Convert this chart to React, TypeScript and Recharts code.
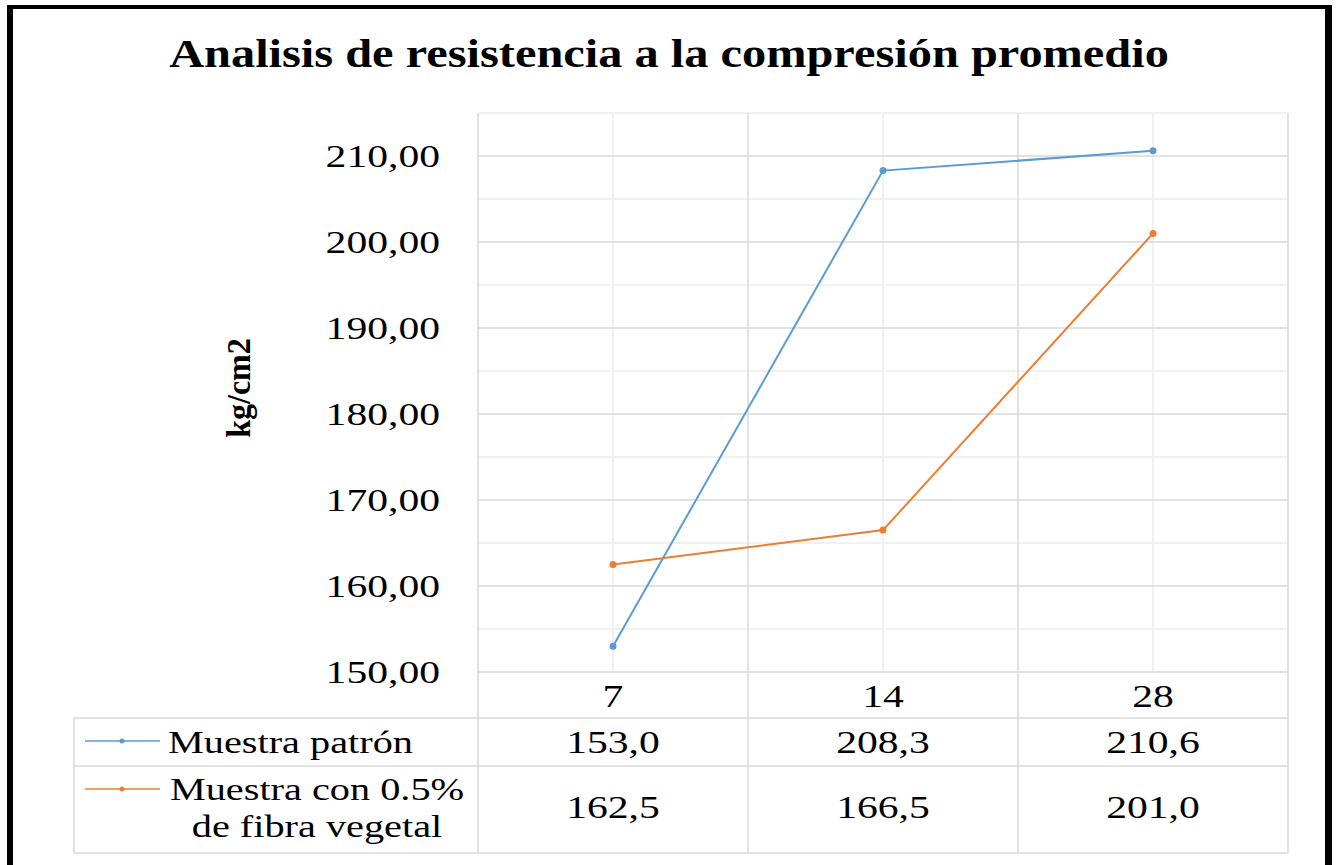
import React from "react";
import { LineChart, Line, XAxis, YAxis, CartesianGrid } from "recharts";

// días de ensayo
const days = ["7", "14", "28"];
// resistencia promedio kg/cm2
const patron = [153.0, 208.3, 210.6];
const fibra = [162.5, 166.5, 201.0];
const seriesNames = ["Muestra patrón", "Muestra con 0.5%", "de fibra vegetal"];
const yTicks = [150, 160, 170, 180, 190, 200, 210];
const yMinor = [155, 165, 175, 185, 195, 205, 215];

const data = days.map((d, i) => ({ day: d, patron: patron[i], fibra: fibra[i] }));

const W = 1336;
const H = 865;
const PLOT_L = 478;
const PLOT_R = 1288;
const PLOT_T = 113;
const PLOT_B = 672;
const TABLE_L = 74;
const ROW1 = 718;
const ROW2 = 766;
const TABLE_B = 853;

const BLUE = "#5B9BD5";
const ORANGE = "#ED7D31";
const MAJOR = "#d9d9d9";
const MINOR = "#ececec";
const FONT = '"Liberation Serif", "Times New Roman", serif';
const SX = 1.3;

const fmt = (v: number, d: number) => v.toFixed(d).replace(".", ",");

const colW = (PLOT_R - PLOT_L) / days.length;

function YTick({ x, y, payload }: any) {
  return (
    <text
      transform={`translate(${x},${y + 11}) scale(${SX},1)`}
      textAnchor="end"
      fontFamily={FONT}
      fontSize={32}
      fill="#000"
    >
      {fmt(payload.value, 2)}
    </text>
  );
}

function XTick({ x, y, payload }: any) {
  const i = days.indexOf(String(payload.value));
  const t = (dy: number, s: string) => (
    <text
      transform={`translate(${x},${y + dy}) scale(${SX},1)`}
      textAnchor="middle"
      fontFamily={FONT}
      fontSize={32}
      fill="#000"
    >
      {s}
    </text>
  );
  return (
    <g>
      {t(35, String(payload.value))}
      {t(81, fmt(patron[i], 1))}
      {t(146, fmt(fibra[i], 1))}
    </g>
  );
}

const yGen = (vals: number[]) => ({ yAxis, offset }: any) =>
  vals.map((v) => {
    if (yAxis && typeof yAxis.scale === "function") {
      const r = yAxis.scale(v);
      if (typeof r === "number" && !isNaN(r)) return r;
    }
    const top = offset?.top ?? PLOT_T;
    const h = offset?.height ?? PLOT_B - PLOT_T;
    return top + ((215 - v) / (215 - 150)) * h;
  });

const boundaryGen = ({ offset }: any) => {
  const l = offset?.left ?? PLOT_L;
  const w = offset?.width ?? PLOT_R - PLOT_L;
  return days.map((_, i) => l + (i * w) / days.length).concat(l + w);
};

const centerGen = ({ offset }: any) => {
  const l = offset?.left ?? PLOT_L;
  const w = offset?.width ?? PLOT_R - PLOT_L;
  return days.map((_, i) => l + ((i + 0.5) * w) / days.length);
};

function LegendSample({ y, color }: { y: number; color: string }) {
  return (
    <g>
      <line x1={85} x2={160} y1={y} y2={y} stroke={color} strokeWidth={1.5} />
      <circle cx={122} cy={y} r={2.5} fill={color} />
    </g>
  );
}

export default function App() {
  const stretch = (x: number, y: number, s = SX) => `translate(${x},${y}) scale(${s},1)`;
  return (
    <div style={{ position: "fixed", left: 0, top: 0, width: W, height: H, background: "#fff", overflow: "hidden" }}>
      <div
        style={{
          position: "absolute",
          left: 7,
          top: 5,
          width: 1325,
          height: 900,
          boxSizing: "border-box",
          borderLeft: "6px solid #000",
          borderRight: "7px solid #000",
          borderTop: "4px solid #000",
        }}
      />
      <div style={{ position: "absolute", left: 0, top: 0 }}>
        <LineChart
          width={W}
          height={H}
          data={data}
          margin={{ top: PLOT_T, right: W - PLOT_R, bottom: H - TABLE_B, left: PLOT_L - 170 }}
        >
          <CartesianGrid
            stroke={MINOR}
            strokeWidth={1.5}
            horizontalCoordinatesGenerator={yGen(yMinor)}
            verticalCoordinatesGenerator={centerGen}
          />
          <CartesianGrid
            stroke={MAJOR}
            strokeWidth={1.5}
            horizontalCoordinatesGenerator={yGen(yTicks)}
            verticalCoordinatesGenerator={boundaryGen}
          />
          <XAxis
            dataKey="day"
            scale="band"
            height={TABLE_B - PLOT_B}
            axisLine={false}
            tickLine={false}
            tickSize={0}
            tickMargin={0}
            interval={0}
            tick={<XTick />}
          />
          <YAxis
            domain={[150, 215]}
            ticks={yTicks}
            width={170}
            axisLine={false}
            tickLine={false}
            tickSize={0}
            tickMargin={38}
            tick={<YTick />}
          />
          <Line
            dataKey="patron"
            stroke={BLUE}
            strokeWidth={2}
            dot={{ r: 3.5, fill: BLUE, stroke: BLUE, strokeWidth: 0 }}
            isAnimationActive={false}
          />
          <Line
            dataKey="fibra"
            stroke={ORANGE}
            strokeWidth={2}
            dot={{ r: 3.5, fill: ORANGE, stroke: ORANGE, strokeWidth: 0 }}
            isAnimationActive={false}
          />
        </LineChart>
      </div>
      <svg width={W} height={H} style={{ position: "absolute", left: 0, top: 0, pointerEvents: "none" }}>
        <text transform={stretch(669, 67, 1.21)} textAnchor="middle" fontFamily={FONT} fontSize={40} fontWeight="bold" fill="#000">
          Analisis de resistencia a la compresión promedio
        </text>
        <text
          transform={`translate(250,388) rotate(-90) scale(1,1.05)`}
          textAnchor="middle"
          fontFamily={FONT}
          fontSize={32}
          fontWeight="bold"
          fill="#000"
        >
          kg/cm2
        </text>
        {/* tabla de datos */}
        <g stroke={MAJOR} strokeWidth={1.5}>
          <line x1={TABLE_L} x2={PLOT_R} y1={ROW1} y2={ROW1} />
          <line x1={TABLE_L} x2={PLOT_R} y1={ROW2} y2={ROW2} />
          <line x1={TABLE_L} x2={PLOT_R} y1={TABLE_B} y2={TABLE_B} />
          <line x1={TABLE_L} x2={TABLE_L} y1={ROW1} y2={TABLE_B} />
          {days.map((_, i) => (
            <line key={i} x1={PLOT_L + i * colW} x2={PLOT_L + i * colW} y1={PLOT_B} y2={TABLE_B} />
          ))}
          <line x1={PLOT_R} x2={PLOT_R} y1={PLOT_B} y2={TABLE_B} />
        </g>
        <LegendSample y={741} color={BLUE} />
        <LegendSample y={789} color={ORANGE} />
        <text transform={stretch(168, 753)} fontFamily={FONT} fontSize={31} fill="#000">
          {seriesNames[0]}
        </text>
        <text transform={stretch(317, 800)} textAnchor="middle" fontFamily={FONT} fontSize={31} fill="#000">
          {seriesNames[1]}
        </text>
        <text transform={stretch(317, 837)} textAnchor="middle" fontFamily={FONT} fontSize={31} fill="#000">
          {seriesNames[2]}
        </text>
      </svg>
    </div>
  );
}
